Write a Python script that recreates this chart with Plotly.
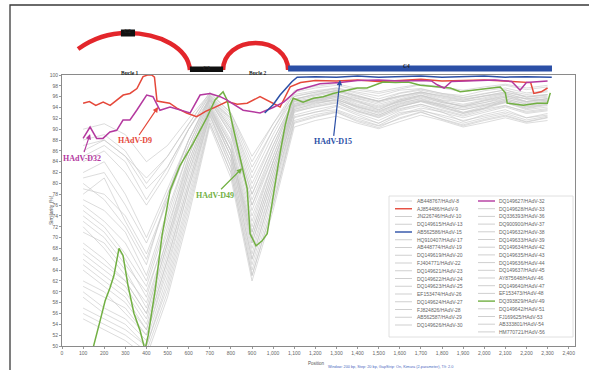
import plotly.graph_objects as go

# ---------------- similarity data (window midpoint in bp, similarity %) ----------------
GRAY_POS = [100, 200, 300, 400, 500, 600, 700, 800, 900, 1000, 1100, 1200,
            1300, 1400, 1500, 1600, 1700, 1800, 1900, 2000, 2100, 2200, 2300]

hadv8 = [86, 88, 85, 79, 83, 90, 95.5, 92, 82, 90, 96, 96.8, 97.4, 96.2, 95.1, 96.6, 97.2, 96.4, 95.8, 96.5, 97.3, 95.9, 96.4]
hadv10 = [69, 66, 62, 56, 69, 82, 93.2, 86, 71, 83, 93.6, 94.8, 95.3, 93.4, 92.2, 94.1, 95.2, 94.6, 93.1, 93.9, 95.4, 94.2, 94.8]
hadv13 = [78, 81, 73, 66, 77, 87, 95.8, 90, 76, 86, 95.1, 95.7, 96.6, 95.2, 93.6, 95.4, 96.3, 95.1, 94.2, 95.3, 96.1, 95.6, 95.2]
hadv17 = [61, 59, 57, 52, 65, 79, 92.4, 84, 66, 79, 92.3, 93.1, 94.2, 92.6, 91.1, 92.8, 93.9, 93.2, 91.4, 92.7, 93.6, 92.1, 92.6]
hadv19 = [90, 91, 89, 84, 87, 92, 96.6, 93, 84, 91, 96.4, 97.1, 97.6, 96.8, 96.1, 97.2, 97.5, 96.6, 96.2, 97.1, 97.6, 96.7, 97.1]
hadv20 = [74, 71, 66, 59, 72, 84, 94.4, 87, 72, 84, 94.2, 95.1, 95.9, 94.1, 93.2, 94.9, 95.6, 94.3, 93.6, 94.4, 95.6, 94.6, 95.1]
hadv22 = [57, 55, 53, 50, 61, 76, 91.2, 82, 63, 76, 91.1, 92.2, 93.1, 91.4, 90.3, 92.1, 93.2, 91.8, 90.6, 91.6, 92.4, 91.3, 92.1]
hadv23 = [76, 73, 69, 62, 74, 86, 95.3, 89, 75, 85, 94.6, 95.4, 96.2, 95.1, 94.1, 95.2, 96.1, 94.9, 94.4, 95.2, 95.9, 95.1, 95.6]
hadv24 = [66, 63, 60, 54, 67, 81, 93.6, 85, 69, 81, 93.1, 94.2, 94.9, 93.3, 92.4, 93.8, 94.6, 93.6, 92.6, 93.7, 94.4, 93.1, 93.6]
hadv25 = [84, 86, 82, 76, 82, 90, 96.2, 91.5, 80, 88, 95.6, 96.4, 97.1, 96.1, 95.2, 96.1, 96.9, 96.1, 95.4, 96.2, 96.8, 96.1, 96.4]
hadv26 = [60, 57, 55, 51, 63, 78, 92.6, 83, 65, 78, 92.1, 93.2, 93.6, 92.2, 91.1, 93.1, 93.4, 92.6, 91.6, 92.4, 93.2, 92.1, 92.9]
hadv27 = [80, 77, 72, 65, 78, 88, 95.6, 90, 78, 87, 95.1, 95.8, 96.4, 95.6, 94.6, 95.6, 96.6, 95.4, 95.1, 95.6, 96.4, 95.1, 95.6]
hadv28 = [55, 53, 51, 48, 59, 74, 90.6, 81, 62, 75, 90.4, 91.6, 92.4, 91.1, 90.1, 91.4, 92.6, 91.6, 90.4, 91.2, 92.1, 91.1, 91.6]
hadv29 = [82, 84, 78, 70, 79, 88, 96.1, 91, 79, 88, 95.4, 96.6, 97.1, 96.1, 95.1, 96.2, 96.8, 96.2, 95.6, 96.1, 96.6, 95.6, 96.1]
hadv30 = [72, 68, 63, 58, 70, 84, 94.1, 87, 71, 83, 94.1, 95.2, 95.4, 94.2, 93.1, 94.6, 95.4, 94.4, 93.6, 94.4, 95.1, 94.1, 94.6]
hadv33 = [88, 89, 86, 80, 85, 91, 96.4, 92.5, 83, 90, 96.8, 97.6, 98.1, 97.2, 96.6, 97.4, 98.2, 97.6, 96.9, 97.5, 98.1, 97.3, 97.8]
hadv36 = [64, 61, 58, 53, 66, 80, 93.1, 85, 67, 80, 93.4, 94.4, 95.1, 93.6, 92.6, 94.2, 95.1, 93.9, 92.9, 93.8, 94.9, 93.6, 94.1]
hadv37 = [71, 69, 64, 57, 70, 83, 94.2, 86, 70, 82, 94.6, 95.6, 96.1, 94.6, 93.6, 95.1, 96.2, 95.1, 94.1, 94.9, 95.9, 94.9, 95.4]
hadv38 = [59, 56, 54, 50, 62, 77, 91.8, 83, 64, 77, 91.6, 92.7, 93.4, 91.9, 90.7, 92.6, 93.6, 92.3, 91.1, 92.1, 92.9, 91.7, 92.4]
hadv39 = [79, 78, 74, 67, 77, 87, 95.4, 89.5, 77, 86, 95.3, 96.1, 96.9, 95.7, 94.9, 95.9, 96.7, 95.7, 95.1, 95.8, 96.6, 95.5, 95.9]
hadv42 = [67, 64, 61, 55, 68, 82, 93.8, 86, 69, 81, 93.9, 94.9, 95.4, 94.1, 92.9, 94.4, 95.3, 94.1, 93.1, 94.2, 94.9, 93.8, 94.4]
hadv43 = [85, 87, 84, 77, 83, 90, 96.3, 92, 81, 89, 96.1, 96.9, 97.6, 96.6, 95.6, 96.7, 97.4, 96.6, 95.9, 96.6, 97.2, 96.4, 96.9]
hadv44 = [62, 60, 56, 52, 64, 79, 92.8, 84, 66, 79, 92.6, 93.6, 94.4, 92.9, 91.6, 93.4, 94.3, 93.1, 92.1, 93.1, 94.1, 92.9, 93.4]
hadv45 = [75, 72, 67, 61, 73, 85, 94.9, 88, 74, 84, 94.4, 95.3, 96.1, 94.9, 93.9, 95.1, 95.9, 94.9, 94.2, 94.9, 95.6, 94.7, 95.2]
hadv46 = [81, 82, 76, 69, 78, 88, 95.9, 90.5, 78, 87, 95.6, 96.3, 97.2, 95.9, 95.2, 96.1, 96.9, 95.9, 95.3, 96.1, 96.9, 95.9, 96.3]
hadv47 = [68, 65, 62, 56, 69, 83, 93.9, 86, 70, 82, 93.7, 94.6, 95.6, 93.9, 92.6, 94.2, 95.1, 94.2, 92.9, 93.9, 95.1, 93.9, 94.6]
hadv48 = [56, 54, 52, 49, 60, 75, 91.1, 82, 63, 76, 91.3, 92.4, 93.2, 91.6, 90.6, 91.9, 93.1, 91.9, 90.8, 91.8, 92.6, 91.4, 92.2]
hadv51 = [73, 70, 65, 60, 71, 85, 94.6, 87.5, 73, 84, 94.3, 95.3, 95.8, 94.4, 93.4, 94.7, 95.7, 94.6, 93.9, 94.6, 95.3, 94.4, 94.9]
hadv53 = [87, 88, 85, 81, 85, 91, 96.8, 93, 85, 91, 97.1, 97.9, 98.4, 97.5, 96.9, 97.7, 98.3, 97.8, 97.2, 97.8, 98.3, 97.6, 98.1]
hadv54 = [65, 62, 59, 53, 66, 80, 93.3, 85, 68, 80, 93.3, 94.1, 94.8, 93.2, 92.1, 93.6, 94.6, 93.4, 92.4, 93.4, 94.3, 93.3, 93.8]
hadv56 = [77, 75, 71, 63, 75, 86, 95.2, 89, 76, 85, 94.8, 95.6, 96.4, 95.3, 94.3, 95.4, 96.3, 95.3, 94.6, 95.4, 96.2, 95.1, 95.7]

# highlighted types
d9_pos = [100, 130, 160, 195, 228, 260, 290, 322, 355, 384, 405, 425, 438, 450, 470, 510, 544, 590,
          638, 680, 716, 782, 830, 877, 938, 990, 1033, 1081, 1130, 1200, 1300, 1400, 1500, 1600,
          1700, 1800, 1900, 2000, 2100, 2220, 2235, 2270, 2300]
d9_val = [94.8, 95.1, 94.4, 95.0, 94.4, 95.4, 96.3, 96.6, 97.5, 99.7, 100, 100, 99.6, 95.2, 95.1, 94.8, 93.9, 93.0,
          92.3, 93.3, 93.9, 95.1, 94.6, 94.8, 96.0, 95.0, 94.1, 97.8, 98.6, 99.0, 98.9, 99.1, 98.8, 99.0,
          99.2, 98.9, 99.0, 99.1, 98.9, 98.6, 96.6, 96.9, 97.6]

d32_pos = [100, 133, 164, 194, 227, 259, 289, 322, 354, 401, 431, 464, 512, 559, 607, 654, 701, 749, 780,
           858, 938, 1000, 1050, 1114, 1222, 1317, 1400, 1500, 1600, 1700, 1750, 1777, 1810, 1845, 1950,
           2050, 2130, 2170, 2200, 2300]
d32_val = [88.3, 90.4, 88.3, 88.3, 89.5, 89.8, 91.7, 91.7, 93.5, 96.3, 96.0, 93.5, 94.1, 93.5, 93.0, 96.3, 96.6, 96.0, 95.4,
           93.5, 93.0, 94.0, 95.0, 97.2, 98.4, 98.6, 99.0, 99.1, 98.9, 99.0, 98.9, 98.2, 97.6, 98.8, 99.0,
           99.1, 98.8, 97.2, 98.6, 98.9]

d15_pos = [960, 1000, 1033, 1060, 1090, 1114, 1200, 1300, 1400, 1500, 1600, 1700, 1800, 1900, 2000, 2100, 2200, 2320]
d15_val = [93.0, 94.5, 96.3, 97.5, 98.8, 99.6, 99.7, 99.6, 99.8, 99.6, 99.7, 99.8, 99.6, 99.7, 99.8, 99.6, 99.7, 99.6]

d49_pos = [100, 147, 180, 204, 227, 246, 270, 289, 313, 341, 370, 393, 408, 441, 474, 512, 559, 621, 687, 725,
           763, 782, 810, 853, 877, 891, 919, 948, 972, 995, 1019, 1033, 1057, 1081, 1095, 1142, 1190, 1237,
           1284, 1351, 1398, 1445, 1507, 1521, 1580, 1640, 1697, 1777, 1839, 1886, 1948, 2028, 2076, 2100,
           2109, 2185, 2251, 2299, 2313]
d49_val = [46, 49.6, 54.6, 58.3, 60.7, 63.0, 68.0, 66.7, 61.1, 56.0, 52.8, 49.3, 51.9, 60.2, 70.4, 78.7, 83.3, 87.4, 92.2, 95.4,
           96.9, 95.4, 90.4, 83.0, 79.1, 70.7, 68.5, 69.4, 70.7, 76.3, 82.4, 85.6, 90.7, 94.4, 95.7, 95.0, 95.7, 96.0,
           96.6, 97.2, 97.6, 97.6, 98.5, 98.7, 98.6, 98.7, 98.1, 97.8, 97.6, 96.9, 97.2, 97.6, 97.8, 96.7,
           94.8, 94.4, 94.8, 94.8, 96.7]

# legend labels (two columns)
legend_left = ["AB448767/HAdV-8", "AJ854486/HAdV-9", "JN226746/HAdV-10", "DQ149615/HAdV-13",
               "AB562586/HAdV-15", "HQ910407/HAdV-17", "AB448774/HAdV-19", "DQ149619/HAdV-20",
               "FJ404771/HAdV-22", "DQ149621/HAdV-23", "DQ149622/HAdV-24", "DQ149623/HAdV-25",
               "EF153474/HAdV-26", "DQ149624/HAdV-27", "FJ824826/HAdV-28", "AB562587/HAdV-29",
               "DQ149626/HAdV-30"]
legend_right = ["DQ149627/HAdV-32", "DQ149628/HAdV-33", "DQ336393/HAdV-36", "DQ900900/HAdV-37",
                "DQ149632/HAdV-38", "DQ149633/HAdV-39", "DQ149634/HAdV-42", "DQ149635/HAdV-43",
                "DQ149636/HAdV-44", "DQ149637/HAdV-45", "AY875648/HAdV-46", "DQ149640/HAdV-47",
                "EF153473/HAdV-48", "DQ393829/HAdV-49", "DQ149642/HAdV-51", "FJ169625/HAdV-53",
                "AB333801/HAdV-54", "HM770721/HAdV-56"]

# hexon regions drawn above the plot (bp)
loop1_span = [76, 606]
c2_span = [279, 346]
c3_span = [606, 763]
loop2_span = [763, 1071]
c4_span = [1071, 2321]

X_TICKS = [0, 100, 200, 300, 400, 500, 600, 700, 800, 900, 1000, 1100, 1200, 1300, 1400,
           1500, 1600, 1700, 1800, 1900, 2000, 2100, 2200, 2300, 2400]

# ---------------- styling ----------------
RED = "#e5483a"
MAGENTA = "#b4399f"
GREEN = "#72b043"
BLUE = "#2b4fa6"
GRAY = "rgba(200,200,200,0.7)"

gray_rows = [
    ("AB448767/HAdV-8", hadv8), ("JN226746/HAdV-10", hadv10), ("DQ149615/HAdV-13", hadv13),
    ("HQ910407/HAdV-17", hadv17), ("AB448774/HAdV-19", hadv19), ("DQ149619/HAdV-20", hadv20),
    ("FJ404771/HAdV-22", hadv22), ("DQ149621/HAdV-23", hadv23), ("DQ149622/HAdV-24", hadv24),
    ("DQ149623/HAdV-25", hadv25), ("EF153474/HAdV-26", hadv26), ("DQ149624/HAdV-27", hadv27),
    ("FJ824826/HAdV-28", hadv28), ("AB562587/HAdV-29", hadv29), ("DQ149626/HAdV-30", hadv30),
    ("DQ149628/HAdV-33", hadv33), ("DQ336393/HAdV-36", hadv36), ("DQ900900/HAdV-37", hadv37),
    ("DQ149632/HAdV-38", hadv38), ("DQ149633/HAdV-39", hadv39), ("DQ149634/HAdV-42", hadv42),
    ("DQ149635/HAdV-43", hadv43), ("DQ149636/HAdV-44", hadv44), ("DQ149637/HAdV-45", hadv45),
    ("AY875648/HAdV-46", hadv46), ("DQ149640/HAdV-47", hadv47), ("EF153473/HAdV-48", hadv48),
    ("DQ149642/HAdV-51", hadv51), ("FJ169625/HAdV-53", hadv53), ("AB333801/HAdV-54", hadv54),
    ("HM770721/HAdV-56", hadv56),
]

fig = go.Figure()
for name, vals in gray_rows:
    fig.add_trace(go.Scatter(x=GRAY_POS, y=vals, mode="lines", name=name,
                             line=dict(color=GRAY, width=0.9), showlegend=False))

fig.add_trace(go.Scatter(x=d9_pos, y=d9_val, mode="lines", name="AJ854486/HAdV-9",
                         line=dict(color=RED, width=1.5), showlegend=False))
fig.add_trace(go.Scatter(x=d49_pos, y=d49_val, mode="lines", name="DQ393829/HAdV-49",
                         line=dict(color=GREEN, width=1.5), showlegend=False))
fig.add_trace(go.Scatter(x=d32_pos, y=d32_val, mode="lines", name="DQ149627/HAdV-32",
                         line=dict(color=MAGENTA, width=1.5), showlegend=False))
fig.add_trace(go.Scatter(x=d15_pos, y=d15_val, mode="lines", name="AB562586/HAdV-15",
                         line=dict(color=BLUE, width=1.5), showlegend=False))

# plot-area geometry (pixels) used for paper coordinates of decorations
W, H = 589, 370
L, R, T, B = 62, 14, 75, 24
PW, PH = W - L - R, H - T - B


def px_x(px):
    return (px - L) / PW


def px_y(py):
    return (H - B - py) / PH


shapes = []
annotations = []

# outer frame
shapes.append(dict(type="path", xref="paper", yref="paper",
                   path=f"M {px_x(10)},{px_y(380)} L {px_x(10)},{px_y(5)} L {px_x(600)},{px_y(5)}",
                   line=dict(color="#3a3a3a", width=1.3)))

# hexon structure sketch: loops as arcs, conserved regions as bars
ARC = dict(color="#e3262b", width=4.5)
l1a, l1b = loop1_span
shapes.append(dict(type="path", xref="x", yref="paper", line=ARC,
                   path=(f"M {l1a},{px_y(49)} C {l1a + 66},{px_y(39)} {l1a + 151},{px_y(33)} {c2_span[0] + 29},{px_y(33)} "
                         f"C {l1b - 142},{px_y(33)} {l1b - 9},{px_y(48)} {l1b},{px_y(70)}")))
l2a, l2b = loop2_span
mid2 = (l2a + l2b) / 2
shapes.append(dict(type="path", xref="x", yref="paper", line=ARC,
                   path=(f"M {l2a},{px_y(70)} C {l2a},{px_y(54)} {mid2 - 85},{px_y(43)} {mid2},{px_y(43)} "
                         f"C {mid2 + 85},{px_y(43)} {l2b},{px_y(54)} {l2b},{px_y(70)}")))
shapes.append(dict(type="rect", xref="x", yref="paper", x0=c2_span[0], x1=c2_span[1],
                   y0=px_y(36.5), y1=px_y(29.5), fillcolor="#111", line=dict(width=0)))
shapes.append(dict(type="rect", xref="x", yref="paper", x0=c3_span[0], x1=c3_span[1],
                   y0=px_y(72), y1=px_y(66.5), fillcolor="#111", line=dict(width=0)))
shapes.append(dict(type="rect", xref="x", yref="paper", x0=c4_span[0], x1=c4_span[1],
                   y0=px_y(71.5), y1=px_y(65.5), fillcolor=BLUE, line=dict(width=0)))

SERIF = "Liberation Serif"
for txt, xv, py in [("C2", sum(c2_span) / 2, 26), ("C3", sum(c3_span) / 2, 62.5),
                    ("C4", 1634, 61.5), ("Bucle 1", 322, 67.5), ("Bucle 2", mid2 + 10, 68)]:
    annotations.append(dict(text=f"<b>{txt}</b>", x=xv, y=px_y(py), xref="x", yref="paper",
                            showarrow=False, font=dict(family=SERIF, size=5.5, color="#222")))

# type labels with arrows
for txt, color, xv, yv, ax, ay in [("HAdV-D32", MAGENTA, 133, 89.1, -8, 24),
                                   ("HAdV-D9", RED, 455, 94.1, -23, 34),
                                   ("HAdV-D49", GREEN, 853, 82.8, -27, 27),
                                   ("HAdV-D15", BLUE, 1317, 99.1, -7, 62)]:
    annotations.append(dict(text=f"<b>{txt}</b>", x=xv, y=yv, xref="x", yref="y", ax=ax, ay=ay,
                            showarrow=True, arrowhead=2, arrowsize=0.9, arrowwidth=1.2,
                            arrowcolor=color, standoff=0,
                            font=dict(family=SERIF, size=8, color=color)))

# legend box drawn as two columns
shapes.append(dict(type="rect", xref="paper", yref="paper", x0=px_x(389), x1=px_x(573),
                   y0=px_y(337), y1=px_y(196), fillcolor="white", line=dict(color="#d8d8d8", width=0.8)))
special = {"AJ854486/HAdV-9": RED, "AB562586/HAdV-15": BLUE,
           "DQ149627/HAdV-32": MAGENTA, "DQ393829/HAdV-49": GREEN}
for col, (labels, lx0, lx1, tx, step) in enumerate([(legend_left, 395, 412, 415, 7.75),
                                                   (legend_right, 478, 495, 497, 7.7)]):
    for i, lab in enumerate(labels):
        py = 201 + i * step
        c = special.get(lab, "#cfcfcf")
        shapes.append(dict(type="line", xref="paper", yref="paper", x0=px_x(lx0), x1=px_x(lx1),
                           y0=px_y(py), y1=px_y(py), line=dict(color=c, width=1.4 if lab in special else 1)))
        annotations.append(dict(text=lab, x=px_x(tx), y=px_y(py), xref="paper", yref="paper",
                                xanchor="left", yanchor="middle", showarrow=False,
                                font=dict(family="Liberation Sans", size=5, color="#666")))

# axis captions
annotations.append(dict(text="Similarity (%)", x=px_x(46), y=px_y(210), xref="paper", yref="paper",
                        textangle=-90, showarrow=False, font=dict(family="Liberation Sans", size=5, color="#555")))
annotations.append(dict(text="Position", x=px_x(316), y=px_y(363), xref="paper", yref="paper",
                        yanchor="middle", showarrow=False,
                        font=dict(family="Liberation Sans", size=4.5, color="#555")))
annotations.append(dict(text="Window: 200 bp, Step: 20 bp, GapStrip: On, Kimura (2-parameter), T/t: 2.0",
                        x=px_x(455), y=px_y(366.5), xref="paper", yref="paper", showarrow=False,
                        yanchor="middle",
                        font=dict(family="Liberation Sans", size=3.8, color="#4a68c0")))

fig.update_layout(
    width=W, height=H, margin=dict(l=L, r=R, t=T, b=B),
    paper_bgcolor="white", plot_bgcolor="white",
    shapes=shapes, annotations=annotations, showlegend=False,
    font=dict(family="Liberation Sans", size=5, color="#555"),
)
fig.update_xaxes(range=[0, 2430], tickvals=X_TICKS, tickformat=",d", showgrid=False, zeroline=False,
                 showline=True, linecolor="#8a8a8a", linewidth=1, mirror=True,
                 ticks="outside", ticklen=2, tickcolor="#999", tickfont=dict(size=5, color="#666"))
fig.update_yaxes(range=[50, 100], dtick=2, showgrid=False, zeroline=False,
                 showline=True, linecolor="#8a8a8a", linewidth=1, mirror=True,
                 ticks="outside", ticklen=2, tickcolor="#999", tickfont=dict(size=5, color="#666"))

fig.write_html("out.html")
